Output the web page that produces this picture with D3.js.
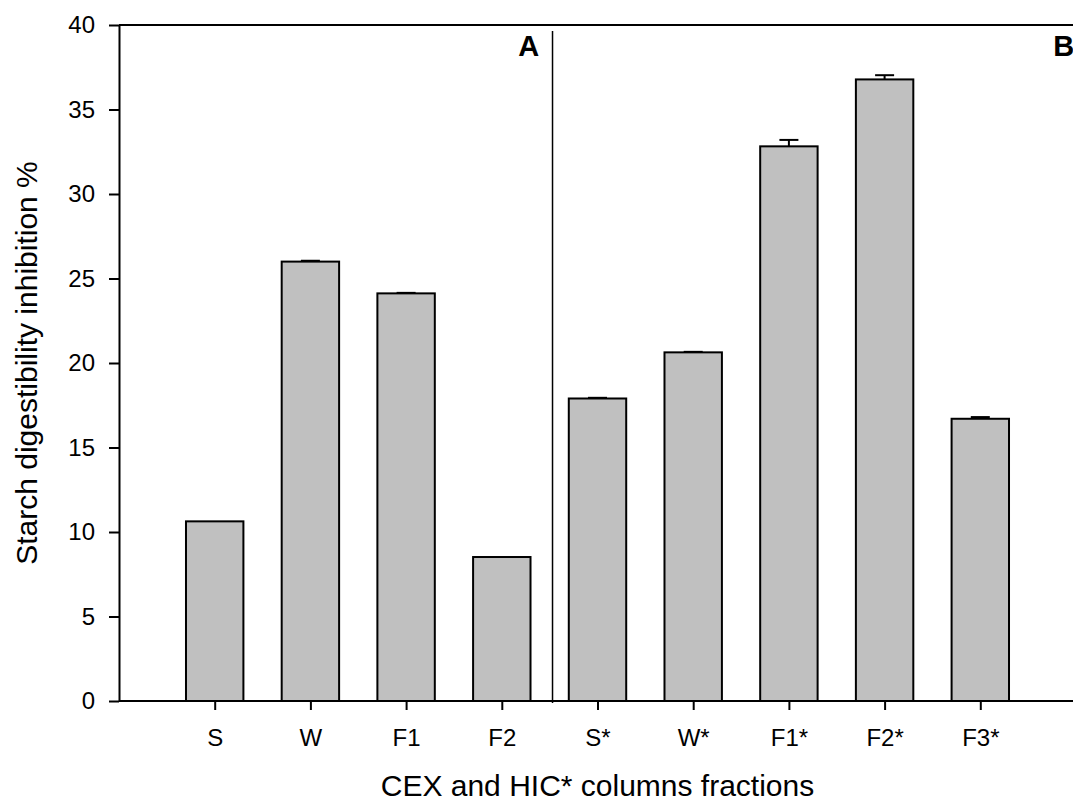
<!DOCTYPE html>
<html>
<head>
<meta charset="utf-8">
<script src="https://cdn.jsdelivr.net/npm/d3@7"></script>
<style>
  body { margin: 0; background: #fff; overflow: hidden; }
  text { font-family: "Liberation Sans", Arial, sans-serif; fill: #000; }
</style>
</head>
<body>
<svg id="chart" width="1073" height="803"></svg>
<script>
// categories (CEX fractions, then HIC* fractions)
const categories = ['S', 'W', 'F1', 'F2', 'S*', 'W*', 'F1*', 'F2*', 'F3*'];
const inhibition = [10.63, 26.0, 24.12, 8.52, 17.9, 20.63, 32.82, 36.78, 16.70];
const errors = [0, 0.05, 0.03, 0, 0.04, 0.03, 0.38, 0.25, 0.1];
const yTicks = [0, 5, 10, 15, 20, 25, 30, 35, 40];
const panels = [{label: 'A', pos: 4.39}, {label: 'B', pos: 9.98}];

const svg = d3.select('#chart');

// x is a slot index: bar i sits at slot i + 1
let x = d3.scaleLinear().domain([0, 10]).range([119, 1076]);
let y = d3.scaleLinear().domain([0, 40]).range([701, 25]);
const slot = x(1) - x(0);
const barW = slot * 0.6;
const dividerPos = 4.53;

let bars = categories.map((c, i) => ({name: c, pos: i + 1, value: inhibition[i], err: errors[i]}));

// bars
svg.append('g')
  .selectAll('rect')
  .data(bars)
  .enter().append('rect')
  .attr('x', (d) => x(d.pos) - barW / 2)
  .attr('y', (d) => y(d.value))
  .attr('width', barW)
  .attr('height', (d) => y(0) - y(d.value))
  .style('fill', '#c0c0c0')
  .style('stroke', '#000')
  .style('stroke-width', 2);

// error bars (upper only)
let err = svg.append('g')
  .selectAll('g')
  .data(bars.filter((d) => d.err > 0))
  .enter().append('g');
err.append('line')
  .attr('x1', (d) => x(d.pos))
  .attr('x2', (d) => x(d.pos))
  .attr('y1', (d) => y(d.value))
  .attr('y2', (d) => y(d.value + d.err))
  .style('stroke', '#000').style('stroke-width', 2);
err.append('line')
  .attr('x1', (d) => x(d.pos) - 9.5)
  .attr('x2', (d) => x(d.pos) + 9.5)
  .attr('y1', (d) => y(d.value + d.err))
  .attr('y2', (d) => y(d.value + d.err))
  .style('stroke', '#000').style('stroke-width', 2);

// divider between the two columns
svg.append('line')
  .attr('x1', x(dividerPos)).attr('x2', x(dividerPos))
  .attr('y1', 31).attr('y2', 703)
  .style('stroke', '#000').style('stroke-width', 1.5);

// top frame line
svg.append('line')
  .attr('x1', 119).attr('x2', 1073)
  .attr('y1', y(40)).attr('y2', y(40))
  .style('stroke', '#000').style('stroke-width', 2);

// y axis
let yAxis = svg.append('g')
  .attr('transform', 'translate(119,0)')
  .call(d3.axisLeft(y).tickValues(yTicks).tickSize(10).tickSizeOuter(0).tickPadding(14));
yAxis.select('.domain').style('stroke-width', 2);
yAxis.selectAll('.tick line').style('stroke-width', 2);
yAxis.selectAll('text').style('font-size', '24px').attr('font-family', null);

// x axis
let xAxis = svg.append('g')
  .attr('transform', 'translate(0,' + y(0) + ')')
  .call(d3.axisBottom(x)
    .tickValues(bars.map((d) => d.pos))
    .tickFormat((d) => categories[d - 1])
    .tickSize(9).tickSizeOuter(0).tickPadding(19));
xAxis.select('.domain').attr('d', 'M119,0H1073').style('stroke-width', 2);
xAxis.selectAll('.tick line').style('stroke-width', 2);
xAxis.selectAll('text').style('font-size', '24px').attr('font-family', null);

// panel letters
svg.selectAll('.panel')
  .data(panels)
  .enter().append('text')
  .attr('class', 'panel')
  .attr('x', (d) => x(d.pos))
  .attr('y', 56)
  .style('text-anchor', 'end')
  .style('font-size', '29px')
  .style('font-weight', 'bold')
  .text((d) => d.label);

// axis titles
svg.append('text')
  .attr('x', x(5))
  .attr('y', 796)
  .style('text-anchor', 'middle')
  .style('font-size', '30px')
  .text('CEX and HIC* columns fractions');

svg.append('text')
  .attr('transform', 'translate(37,' + y(20) + ') rotate(-90)')
  .style('text-anchor', 'middle')
  .style('font-size', '30px')
  .text('Starch digestibility inhibition %');
</script>
</body>
</html>
